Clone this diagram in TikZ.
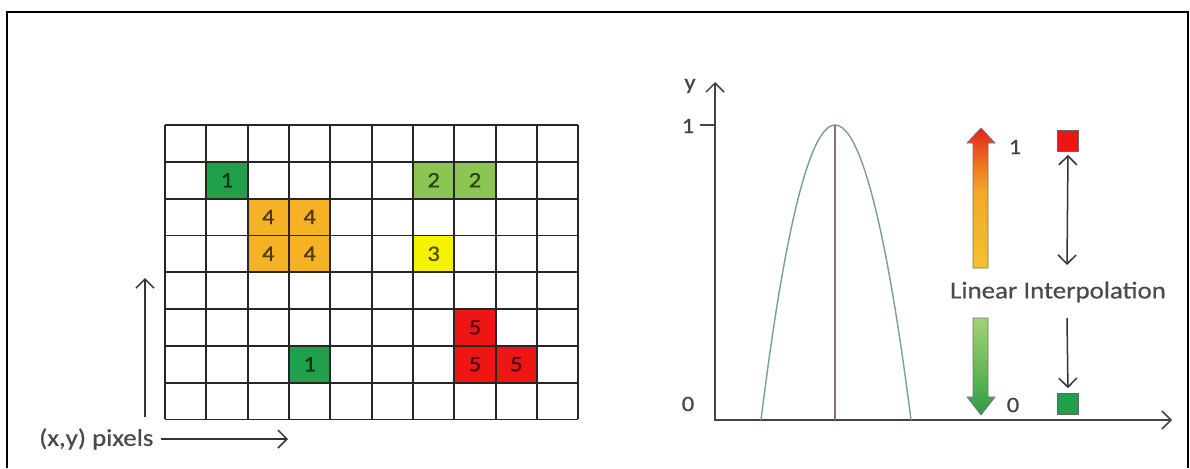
\documentclass[tikz,border=0pt]{standalone}
\usepackage{fontspec}
\setmainfont{Carlito}[FakeStretch=1.12,FakeBold=0.6]
\usetikzlibrary{arrows.meta}
\definecolor{dgreen}{HTML}{21A04C}
\definecolor{lgreen}{HTML}{8CC652}
\definecolor{orng}{HTML}{F5B224}
\definecolor{yllw}{HTML}{F6F100}
\definecolor{rred}{HTML}{EE1515}
\definecolor{txtgray}{HTML}{4A4A4A}
\definecolor{axisgray}{HTML}{444444}
\definecolor{curvec}{HTML}{7A9C9C}
\definecolor{stemc}{HTML}{8C6E6E}
\definecolor{ua}{HTML}{F2C230}
\definecolor{ub}{HTML}{F3A82A}
\definecolor{uc}{HTML}{EE7A22}
\definecolor{ud}{HTML}{E84A1E}
\definecolor{ue}{HTML}{E5221A}
\definecolor{ga}{HTML}{2E9A48}
\definecolor{gb}{HTML}{52B050}
\definecolor{gc}{HTML}{A2D374}
\pgfdeclareverticalshading{upgrad}{100bp}{color(0bp)=(ua); color(25bp)=(ua); color(52bp)=(ub); color(61bp)=(uc); color(69bp)=(ud); color(75bp)=(ue); color(100bp)=(ue)}
\pgfdeclareverticalshading{downgrad}{100bp}{color(0bp)=(ga); color(25bp)=(ga); color(40bp)=(gb); color(75bp)=(gc); color(100bp)=(gc)}
\begin{document}
\begin{tikzpicture}[x=1pt,y=-1pt,
  cell/.style={minimum width=41.33pt, minimum height=36.8pt, inner sep=0pt,
    font=\fontsize{22}{22}\selectfont, text=black, text opacity=0.65},
  gridline/.style={line width=1.8pt, draw=black!85},
  barb/.style={-{Straight Barb[length=9pt,width=18pt]}, line width=1.5pt, draw=black!80},
  dbarb/.style={{Straight Barb[length=9pt,width=18pt]}-{Straight Barb[length=9pt,width=18pt]}, line width=1.5pt, draw=black!80},
  lbl/.style={font=\fontsize{24}{24}\selectfont, text=txtgray, inner sep=1pt},
  axlbl/.style={font=\fontsize{22}{22}\selectfont, text=axisgray, inner sep=1pt}]
\useasboundingbox (0,0) rectangle (1190,468);
\draw[line width=1.8pt] (7,468) -- (7,12) -- (1188,12) -- (1188,468);
% coloured cells
\foreach \c/\r/\col/\t/\n in {1/1/dgreen/1/ca,6/1/lgreen/2/cb,7/1/lgreen/2/cc,
  2/2/orng/4/cd,3/2/orng/4/ce,2/3/orng/4/cf,3/3/orng/4/cg,6/3/yllw/3/ch,
  7/5/rred/5/ci,7/6/rred/5/cj,8/6/rred/5/ck,3/6/dgreen/1/cl}
  \node[cell, fill=\col] (\n) at ({165+(\c+0.5)*41.33},{125+(\r+0.5)*36.8}) {\t};
% grid
\foreach \i in {0,...,10}
  \draw[gridline] ({165+\i*41.33},125) -- ({165+\i*41.33},419.4);
\foreach \j in {0,...,8}
  \draw[gridline] (165,{125+\j*36.8}) -- (578.3,{125+\j*36.8});
% left arrows and label
\coordinate (va) at (145,417);
\coordinate (vb) at (145,278);
\draw[barb] (va) -- (vb);
\node[lbl, anchor=west] (pix) at (38,439) {(x,y) pixels};
\coordinate (hb) at (288,439);
\draw[barb] ([xshift=6pt]pix.east) -- (hb);
% axes
\coordinate (O) at (715,420);
\coordinate (ytop) at (715,82);
\coordinate (xend) at (1172,420);
\coordinate (tk) at (700,125);
\coordinate (tk2) at (715,125);
\draw[dbarb, draw=axisgray] (ytop) -- (O) -- (xend);
\draw[line width=1.5pt, axisgray] (tk) -- (tk2);
\node[axlbl] (ylab) at (690,86) {y};
\node[axlbl] (ylab1) at (688,126) {1};
\node[axlbl] (ylab0) at (688,404) {0};
% curve
\coordinate (pa) at (761,420);
\coordinate (pk) at (835,125);
\coordinate (pb) at (911,420);
\coordinate (pm) at (835,420);
\draw[curvec, line width=1.4pt] (pa) parabola bend (pk) (pb);
\draw[stemc, line width=1.2pt] (pk) -- (pm);
% gradient arrows
\shade[shading=upgrad, draw=black!55, line width=0.7pt]
  (973,268) -- (973,143) -- (967,143) -- (981,128) -- (995,143) -- (988,143) -- (988,268) -- cycle;
\shade[shading=downgrad, draw=black!55, line width=0.7pt]
  (973,318) -- (973,397) -- (967,397) -- (981,415) -- (995,397) -- (988,397) -- (988,318) -- cycle;
\node[axlbl] (one) at (1015,147) {1};
\node[axlbl] (zero) at (1013,405) {0};
% squares
\node[minimum size=21pt, inner sep=0pt, fill=rred, draw=black!60, line width=0.7pt] (rsq) at (1068,141) {};
\node[minimum size=21pt, inner sep=0pt, fill=dgreen, draw=black!60, line width=0.7pt] (gsq) at (1068,404) {};
\node[lbl] (li) at (1058,292) {Linear Interpolation};
\coordinate (da2) at (1067,265);
\coordinate (db1) at (1067,318);
\draw[dbarb, shorten <=3pt] (rsq.south) -- (da2);
\draw[barb, shorten >=5pt] (db1) -- (gsq.north);
\end{tikzpicture}
\end{document}
